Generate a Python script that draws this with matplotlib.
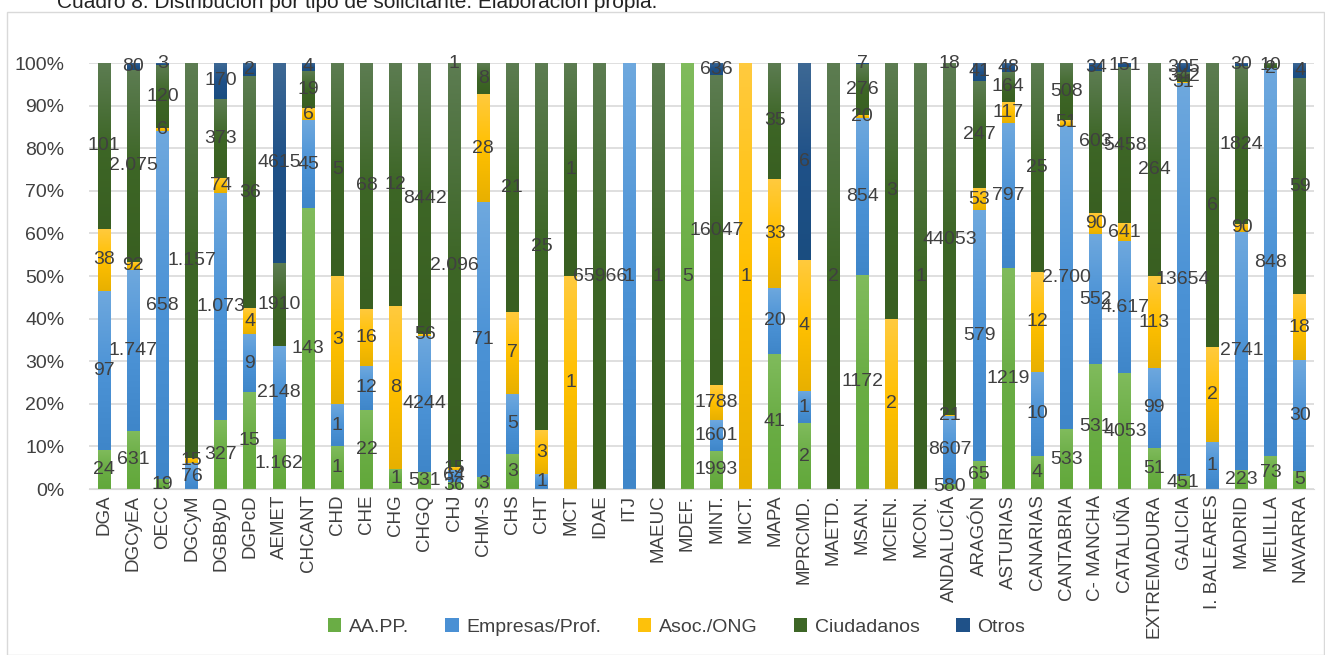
# 100% stacked bars: distribucion por tipo de solicitante
import numpy as np
import matplotlib
matplotlib.use('Agg')
import matplotlib.pyplot as plt
from matplotlib.patches import Rectangle
from matplotlib.colors import LinearSegmentedColormap

plt.rcParams['font.family'] = ['Liberation Sans', 'DejaVu Sans']

# data (labels written as in the original table, '' = no value)
categories = ['DGA', 'DGCyEA', 'OECC', 'DGCyM', 'DGBByD', 'DGPcD', 'AEMET',
              'CHCANT', 'CHD', 'CHE', 'CHG', 'CHGQ', 'CHJ', 'CHM-S', 'CHS',
              'CHT', 'MCT', 'IDAE', 'ITJ', 'MAEUC', 'MDEF.', 'MINT.', 'MICT.',
              'MAPA', 'MPRCMD.', 'MAETD.', 'MSAN.', 'MCIEN.', 'MCON.',
              'ANDALUCÍA', 'ARAGÓN', 'ASTURIAS', 'CANARIAS', 'CANTABRIA',
              'C- MANCHA', 'CATALUÑA', 'EXTREMADURA', 'GALICIA',
              'I. BALEARES', 'MADRID', 'MELILLA', 'NAVARRA']

aapp = ['24', '631', '19', '', '327', '15', '1.162', '143', '1', '22', '1',
        '531', '36', '3', '3', '', '', '', '', '', '5', '1993', '', '41', '2',
        '', '1172', '', '', '580', '65', '1219', '4', '533', '531', '4053',
        '51', '451', '', '223', '73', '5']
empresas = ['97', '1.747', '658', '76', '1.073', '9', '2148', '45', '1', '12',
            '', '4244', '64', '71', '5', '1', '', '', '1', '', '', '1601', '',
            '20', '1', '', '854', '', '', '8607', '579', '797', '10', '2.700',
            '552', '4.617', '99', '13654', '1', '2741', '848', '30']
asoc = ['38', '92', '6', '15', '74', '4', '', '6', '3', '16', '8', '56', '15',
        '28', '7', '3', '1', '', '', '', '', '1788', '1', '33', '4', '', '20',
        '2', '', '21', '53', '117', '12', '51', '90', '641', '113', '31', '2',
        '90', '2', '18']
ciudadanos = ['101', '2.075', '120', '1.157', '373', '36', '1910', '19', '5',
              '68', '12', '8442', '2.096', '8', '21', '25', '1', '65966', '',
              '1', '', '16047', '', '35', '', '2', '276', '3', '1', '44053',
              '247', '164', '25', '508', '603', '5458', '264', '342', '6',
              '1824', '10', '59']
otros = ['', '80', '3', '', '170', '2', '4615', '4', '', '', '', '', '1', '',
         '', '', '', '', '', '', '', '636', '', '', '6', '', '7', '', '', '18',
         '41', '48', '', '', '34', '151', '', '305', '', '30', '', '4']

series_names = ['AA.PP.', 'Empresas/Prof.', 'Asoc./ONG', 'Ciudadanos', 'Otros']
series_labels = [aapp, empresas, asoc, ciudadanos, otros]
colors = ['#6AAD45', '#4A90D4', '#FDC10B', '#3D6626', '#1F5188']
# excel style gradient: light top -> base -> darker bottom
grad_stops = [('#62A83A', '#6AAD45', '#80BB5C'),
              ('#3F86C9', '#4C93D6', '#6EA8DE'),
              ('#E8B000', '#FFC000', '#FFCA3E'),
              ('#395F21', '#3D6626', '#5C7C51'),
              ('#1A4D80', '#1F5188', '#3D6894')]


def to_num(s):
    return float(s.replace('.', '')) if s else 0.0


values = np.array([[to_num(s) for s in lab] for lab in series_labels])
shares = values / values.sum(axis=0)

fig = plt.figure(figsize=(13.25, 6.55), dpi=100)
ax = fig.add_axes([0.0675, 0.2534, 0.9245, 0.6504])

x = np.arange(len(categories))
bottom = np.zeros(len(categories))
grad = np.linspace(0, 1, 64).reshape(-1, 1)
for name, lab, share, col, stops in zip(series_names, series_labels, shares,
                                        colors, grad_stops):
    bars = ax.bar(x, share, 0.44, bottom=bottom, color=col, label=name,
                  zorder=2)
    cmap = LinearSegmentedColormap.from_list(name, list(stops))
    for rect in bars:
        if rect.get_height() > 0:
            x0, y0 = rect.get_x(), rect.get_y()
            ax.imshow(grad, cmap=cmap, origin='lower', aspect='auto',
                      extent=[x0, x0 + rect.get_width(), y0,
                              y0 + rect.get_height()],
                      interpolation='bilinear', zorder=2.1)
    for i in range(len(categories)):
        if lab[i]:
            ax.text(x[i], bottom[i] + share[i] / 2, lab[i], ha='center',
                    va='center', fontsize=14, color='#404040', zorder=3)
    bottom += share

ax.set_xlim(-0.5, len(categories) - 0.5)
ax.set_ylim(0, 1)
ax.set_yticks(np.linspace(0, 1, 11))
ax.set_yticklabels([f'{int(v)}%' for v in np.linspace(0, 100, 11)],
                   fontsize=14, color='#404040')
ax.set_xticks(x)
ax.set_xticklabels(categories, rotation=90, fontsize=13.5, color='#404040')
ax.tick_params(axis='x', length=0, pad=4)
ax.tick_params(axis='y', length=0, pad=18)
ax.yaxis.grid(True, color='#D9D9D9', linewidth=1.2, zorder=0)
for side in ['top', 'right', 'left']:
    ax.spines[side].set_visible(False)
ax.spines['bottom'].set_color('#D9D9D9')

fig.legend(loc='center', bbox_to_anchor=(0.5106, 0.043), ncol=5,
           frameon=False, fontsize=14, handlelength=0.7, handleheight=0.7,
           columnspacing=1.85, handletextpad=0.4, labelcolor='#404040')

fig.patches.append(Rectangle((0.0053, 0.0), 0.994, 0.9817, fill=False,
                             edgecolor='#D9D9D9', linewidth=1,
                             transform=fig.transFigure))
fig.text(0.043, 0.988, 'Cuadro 8. Distribución por tipo de solicitante. '
         'Elaboración propia.', fontsize=15, color='#222222', va='baseline')

fig.savefig('out.png', dpi=100)
